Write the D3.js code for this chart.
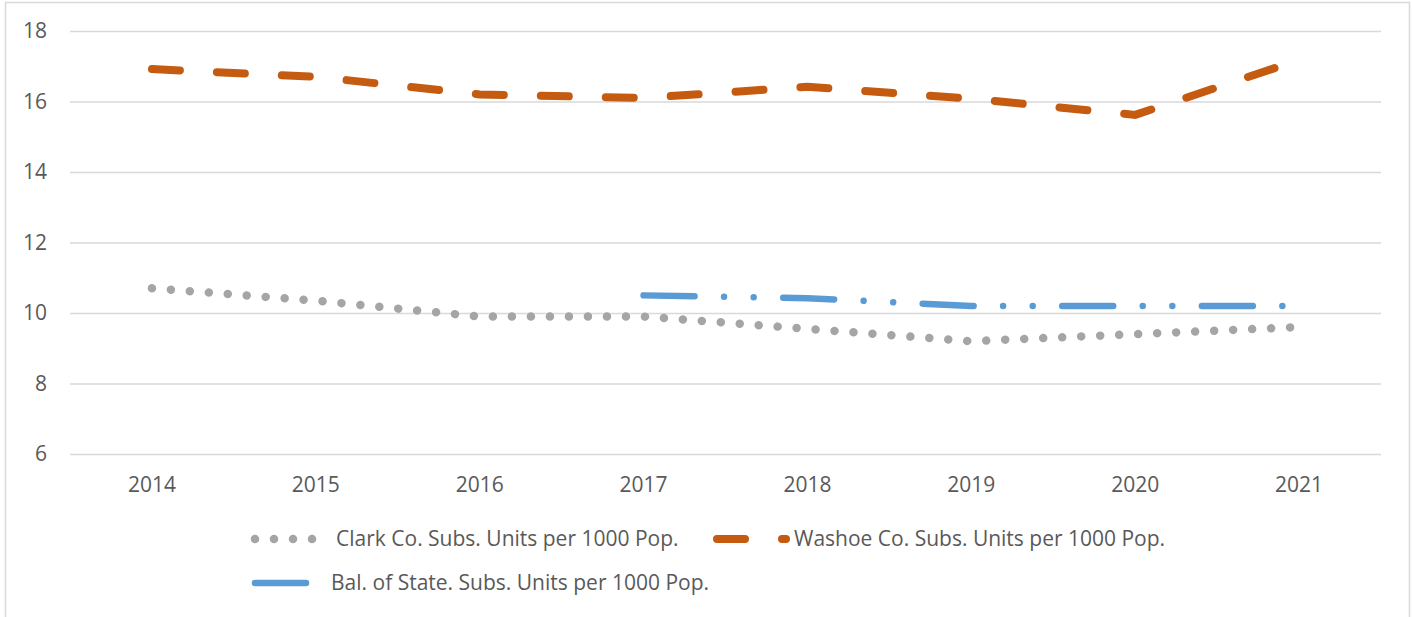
<!DOCTYPE html>
<html>
<head>
<meta charset="utf-8">
<script src="https://cdn.jsdelivr.net/npm/d3@7"></script>
<style>
  body { margin: 0; background: #fff; }
  svg { display: block; font-family: "Open Sans", sans-serif; }
</style>
</head>
<body>
<svg id="chart" width="1412" height="617"></svg>
<script>
const years = ["2014", "2015", "2016", "2017", "2018", "2019", "2020", "2021"];
const clark = [10.7, 10.35, 9.9, 9.9, 9.55, 9.2, 9.4, 9.6];
const washoe = [16.92, 16.7, 16.2, 16.1, 16.42, 16.08, 15.62, 17.18];
const balance = [null, null, null, 10.5, 10.42, 10.2, 10.2, 10.2];
const yTicks = [6, 8, 10, 12, 14, 16, 18];

const series = [
  { name: "Clark Co. Subs. Units per 1000 Pop.", values: clark, color: "#A5A5A5", width: 8.5, dash: "0.01 19" },
  { name: "Washoe Co. Subs. Units per 1000 Pop.", values: washoe, color: "#C55A11", width: 8, dash: "28 37" },
  { name: "Bal. of State. Subs. Units per 1000 Pop.", values: balance, color: "#5B9BD5", width: 6.5, dash: "51 29.5 0.01 29.6 0.01 29.5" }
];

const svg = d3.select("#chart");
const margin = { top: 31, right: 31, bottom: 163, left: 70 };
const width = 1412 - margin.left - margin.right;
const height = 617 - margin.top - margin.bottom;

// chart area border
svg.append("rect")
    .attr("x", 5.5).attr("y", 2.5)
    .attr("width", 1404).attr("height", 640)
    .attr("fill", "none")
    .attr("stroke", "#D9D9D9")
    .attr("stroke-width", 1.5);

const x = d3.scaleBand().domain(years).range([0, width]).padding(0);
const y = d3.scaleLinear().domain([6, 18]).range([height, 0]);

const g = svg.append("g")
    .attr("transform", "translate(" + margin.left + "," + margin.top + ")");

// gridlines + y labels
g.append("g")
    .attr("class", "axis axis--y")
    .call(d3.axisLeft(y).tickValues(yTicks).tickSize(-width).tickPadding(23))
    .call(function(a) { a.select(".domain").remove(); })
    .call(function(a) {
      a.selectAll(".tick line").attr("stroke", "#D9D9D9").attr("stroke-width", 1.5);
      a.selectAll(".tick text")
        .attr("fill", "#595959")
        .style("font-size", "21px")
        .style("font-family", "Open Sans");
    });

// x labels
g.append("g")
    .attr("class", "axis axis--x")
    .attr("transform", "translate(0," + height + ")")
    .call(d3.axisBottom(x).tickSize(0).tickPadding(0))
    .call(function(a) { a.select(".domain").remove(); })
    .call(function(a) {
      a.selectAll(".tick text")
        .attr("fill", "#595959")
        .attr("y", 38)
        .attr("dy", 0)
        .style("font-size", "21px")
        .style("font-family", "Open Sans");
    });

const line = d3.line()
    .defined(function(d) { return d.v != null; })
    .x(function(d) { return x(d.year) + x.bandwidth() / 2; })
    .y(function(d) { return y(d.v); });

g.selectAll(".series")
  .data(series)
  .enter().append("path")
    .attr("class", "series")
    .attr("fill", "none")
    .attr("stroke", function(d) { return d.color; })
    .attr("stroke-width", function(d) { return d.width; })
    .attr("stroke-linecap", "round")
    .attr("stroke-dasharray", function(d) { return d.dash; })
    .attr("d", function(d) {
      return line(d.values.map(function(v, i) { return { year: years[i], v: v }; }));
    });

// legend
const legendItems = [
  { s: series[0], x0: 255, x1: 313, tx: 336, ty: 539 },
  { s: series[1], x0: 717, x1: 786, tx: 794, ty: 539 },
  { s: series[2], x0: 255, x1: 307, tx: 331, ty: 583 }
];

const legend = svg.append("g").attr("class", "legend");

legend.selectAll("line")
  .data(legendItems)
  .enter().append("line")
    .attr("x1", function(d) { return d.x0; })
    .attr("x2", function(d) { return d.x1; })
    .attr("y1", function(d) { return d.ty; })
    .attr("y2", function(d) { return d.ty; })
    .attr("stroke", function(d) { return d.s.color; })
    .attr("stroke-width", function(d) { return d.s.width; })
    .attr("stroke-linecap", "round")
    .attr("stroke-dasharray", function(d) { return d.s.dash; });

legend.selectAll("text")
  .data(legendItems)
  .enter().append("text")
    .attr("x", function(d) { return d.tx; })
    .attr("y", function(d) { return d.ty; })
    .attr("dy", "0.35em")
    .attr("fill", "#595959")
    .style("font-size", "21px")
    .text(function(d) { return d.s.name; });
</script>
</body>
</html>
